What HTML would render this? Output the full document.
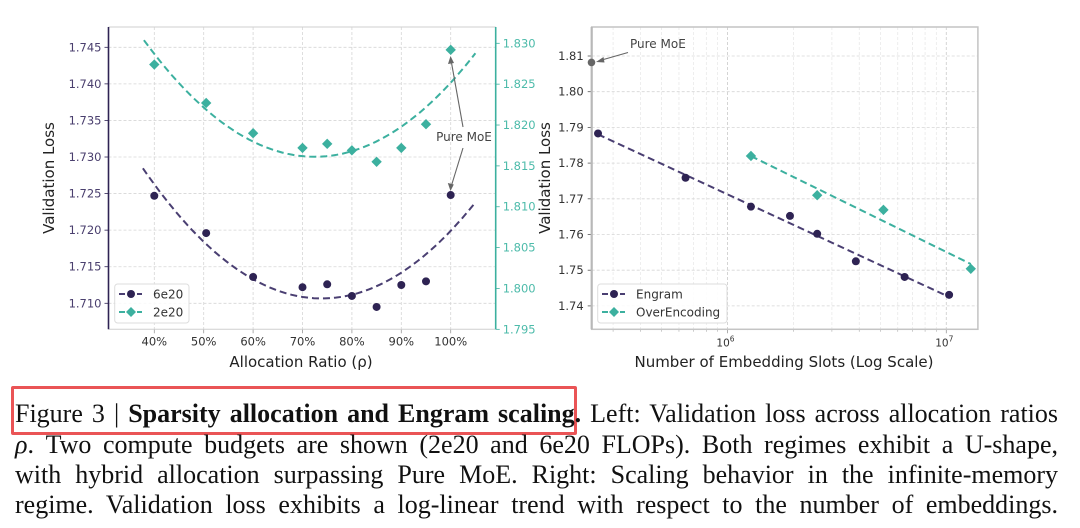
<!DOCTYPE html>
<html><head><meta charset="utf-8">
<style>
html,body{margin:0;padding:0;background:#fff;}
#wrap{position:relative;width:1080px;height:528px;overflow:hidden;background:#fff;}
svg{position:absolute;left:0;top:0;}
.cap{position:absolute;left:15px;width:1043px;font-family:"Liberation Serif",serif;font-size:26px;color:#111;white-space:nowrap;text-align:justify;text-align-last:justify;line-height:30px;}
#box{position:absolute;left:11px;top:386px;width:560px;height:43px;border:3px solid #ea5456;border-radius:2px;}
</style></head>
<body>
<div id="wrap">
<svg id="chart" width="1080" height="380" viewBox="0 0 1080 380"></svg>
<div id="box"></div>
<div class="cap" style="top:399px">Figure 3 | <b>Sparsity allocation and Engram scaling.</b> Left: Validation loss across allocation ratios</div>
<div class="cap" style="top:430px"><i>ρ</i>. Two compute budgets are shown (2e20 and 6e20 FLOPs). Both regimes exhibit a U-shape,</div>
<div class="cap" style="top:460px">with hybrid allocation surpassing Pure MoE. Right: Scaling behavior in the infinite-memory</div>
<div class="cap" style="top:490px">regime. Validation loss exhibits a log-linear trend with respect to the number of embeddings.</div>
</div>
<script>
// ---- Left chart data ----
const allocRatios = [40, 50.5, 60, 70, 75, 80, 85, 90, 95, 100];
const loss6e20 = [1.7247, 1.7196, 1.7136, 1.7122, 1.7126, 1.7110, 1.7095, 1.7125, 1.7130, 1.7248];
const loss2e20 = [1.8274, 1.8227, 1.8190, 1.8172, 1.8177, 1.8169, 1.8155, 1.8172, 1.8201, 1.8292];
const xTicksLeft = [40, 50, 60, 70, 80, 90, 100];
const yTicksLeft = [1.710, 1.715, 1.720, 1.725, 1.730, 1.735, 1.740, 1.745];
const yTicksRightAxis = [1.795, 1.800, 1.805, 1.810, 1.815, 1.820, 1.825, 1.830];
// ---- Right chart data ----
const engramSlots = [2.56e5, 6.43e5, 1.28e6, 1.93e6, 2.57e6, 3.86e6, 6.45e6, 1.03e7];
const engramLoss = [1.7883, 1.7759, 1.7678, 1.7652, 1.7602, 1.7525, 1.7481, 1.7431];
const overEncSlots = [1.28e6, 2.57e6, 5.16e6, 1.294e7];
const overEncLoss = [1.7820, 1.7710, 1.7669, 1.7504];
const pureMoeSlots = [2.39e5];
const pureMoeLoss = [1.8082];
const yTicksRight = [1.74, 1.75, 1.76, 1.77, 1.78, 1.79, 1.80, 1.81];

const PURPLE = '#2e2353', TEAL = '#3cb09f';
const svg = document.getElementById('chart');
const NS = 'http://www.w3.org/2000/svg';
function mk(tag, attrs, parent, text) {
  const e = document.createElementNS(NS, tag);
  for (const k in attrs) e.setAttribute(k, attrs[k]);
  if (text !== undefined) e.textContent = text;
  (parent || svg).appendChild(e);
  return e;
}
const xL = v => 154.3 + (v - 40) * 4.94;
const yL = v => 47.3 + (1.745 - v) / 0.005 * 36.57;
const yR = v => 43.3 + (1.830 - v) / 0.005 * 40.86;
const xE = n => 727.5 + (Math.log10(n) - 6) * 218.8;
const yE = v => 56 + (1.81 - v) / 0.01 * 35.7;
const L = {x0: 108.5, x1: 495.7, y0: 27, y1: 329.3};
const R = {x0: 591.7, x1: 977.9, y0: 27, y1: 329.3};

function quadFit(xs, ys) {
  let S = [[0,0,0],[0,0,0],[0,0,0]], b = [0,0,0];
  xs.forEach((x, i) => { const p = [1, x, x*x];
    for (let r = 0; r < 3; r++) { b[r] += p[r]*ys[i]; for (let c = 0; c < 3; c++) S[r][c] += p[r]*p[c]; } });
  for (let i = 0; i < 3; i++) { for (let j = i+1; j < 3; j++) { const f = S[j][i]/S[i][i];
      for (let k = i; k < 3; k++) S[j][k] -= f*S[i][k]; b[j] -= f*b[i]; } }
  const c = [0,0,0];
  for (let i = 2; i >= 0; i--) { let s = b[i]; for (let k = i+1; k < 3; k++) s -= S[i][k]*c[k]; c[i] = s/S[i][i]; }
  return x => c[0] + c[1]*x + c[2]*x*x;
}
function linFit(xs, ys) {
  const n = xs.length, mx = xs.reduce((a,b)=>a+b)/n, my = ys.reduce((a,b)=>a+b)/n;
  let sxy = 0, sxx = 0; xs.forEach((x,i)=>{ sxy += (x-mx)*(ys[i]-my); sxx += (x-mx)*(x-mx); });
  const m = sxy/sxx; return x => my + m*(x-mx);
}
function diamond(cx, cy, r) { return `${cx},${cy-r} ${cx+r},${cy} ${cx},${cy+r} ${cx-r},${cy}`; }

// ================= RIGHT CHART (drawn first so left labels stay on top) =================
const gR = mk('g', {});


for (let e = 5; e <= 7; e++) for (let m = 1; m <= 9; m++) {
  const v = m * Math.pow(10, e), x = xE(v);
  if (x < R.x0 || x > R.x1) continue;
  mk('line', {x1: x, x2: x, y1: R.y0, y2: R.y1, stroke: m === 1 ? '#d0d0d0' : '#e6e6e6', 'stroke-width': m === 1 ? 0.9 : 0.7, 'stroke-dasharray': '3,2'}, gR);
  if (m !== 1) mk('line', {x1: x, x2: x, y1: R.y1, y2: R.y1 + 2.5, stroke: '#aaa', 'stroke-width': 0.6}, gR);
}
[6, 7].forEach(e => {
  const x = xE(Math.pow(10, e));
  mk('line', {x1: x, x2: x, y1: R.y1, y2: R.y1 + 4, stroke: '#999', 'stroke-width': 0.8}, gR);
  const t = mk('text', {x: x - 2, y: R.y1 + 17, 'text-anchor': 'middle', 'font-size': 10.5, fill: '#333', 'font-family': 'DejaVu Sans, sans-serif'}, gR, '10');
  mk('tspan', {dy: -5, 'font-size': 7.5}, t, String(e));
  
  
});
yTicksRight.forEach(t => {
  mk('line', {x1: R.x0, x2: R.x1, y1: yE(t), y2: yE(t), stroke: '#d6d6d6', 'stroke-width': 0.8, 'stroke-dasharray': '3,2'}, gR);
  mk('line', {x1: R.x0 - 4, x2: R.x0, y1: yE(t), y2: yE(t), stroke: '#555', 'stroke-width': 0.8}, gR);
  const tx = mk('text', {x: R.x0 - 8, y: yE(t) + 4, 'text-anchor': 'end', 'font-size': 11.5, fill: '#333', 'font-family': 'DejaVu Sans, sans-serif'}, gR, t.toFixed(2));
  
  
});
const frame = mk('rect', {x: R.x0, y: R.y0, width: R.x1 - R.x0, height: R.y1 - R.y0, fill: 'none', stroke: '#c4c4c4', 'stroke-width': 1.5}, gR);


mk('line', {x1: R.x0, x2: R.x0, y1: R.y0, y2: R.y1, stroke: '#b8b8b8', 'stroke-width': 2.2}, gR);

const fe = linFit(engramSlots.map(Math.log10), engramLoss);
const fo = linFit(overEncSlots.map(Math.log10), overEncLoss);
function lin(f, xs, col, name) {
  const a = xs[0], b = xs[xs.length - 1];
  const p = mk('line', {x1: xE(a), y1: yE(f(Math.log10(a))), x2: xE(b), y2: yE(f(Math.log10(b))), stroke: col, 'stroke-width': 2, 'stroke-dasharray': '7,4'}, gR);
  
  
}
lin(fe, engramSlots, '#4a3f72', 'fit-line-engram');
lin(fo, overEncSlots, TEAL, 'fit-line-overencoding');
engramSlots.forEach((s, i) => {
  const p = mk('circle', {cx: xE(s), cy: yE(engramLoss[i]), r: 4, fill: PURPLE}, gR);
  
  
});
overEncSlots.forEach((s, i) => {
  const p = mk('polygon', {points: diamond(xE(s), yE(overEncLoss[i]), 5.2), fill: TEAL}, gR);
  
  
});
pureMoeSlots.forEach((s, i) => {
  const p = mk('circle', {cx: xE(s), cy: yE(pureMoeLoss[i]), r: 3.8, fill: '#666'}, gR);
  
  
});
mk('line', {x1: 628, y1: 52.5, x2: 600, y2: 60.5, stroke: '#666', 'stroke-width': 1.1}, gR);
mk('polygon', {points: '596,62 603.5,57 604.5,62.5', fill: '#666'}, gR);
const annR = mk('text', {x: 630, y: 48, 'font-size': 12, fill: '#444', 'font-family': 'DejaVu Sans, sans-serif'}, gR, 'Pure MoE');


const lgR = mk('g', {}, gR);


mk('rect', {x: 597.7, y: 284, width: 129.3, height: 39, rx: 3, fill: '#fff', 'fill-opacity': 0.85, stroke: '#ddd'}, lgR);
mk('line', {x1: 602, x2: 625, y1: 294, y2: 294, stroke: '#4a3f72', 'stroke-width': 2, 'stroke-dasharray': '6,3'}, lgR);
mk('circle', {cx: 614, cy: 294, r: 4, fill: PURPLE}, lgR);
mk('text', {x: 636, y: 298.5, 'font-size': 12, fill: '#333', 'font-family': 'DejaVu Sans, sans-serif'}, lgR, 'Engram');
mk('line', {x1: 602, x2: 625, y1: 312, y2: 312, stroke: TEAL, 'stroke-width': 2, 'stroke-dasharray': '6,3'}, lgR);
mk('polygon', {points: diamond(614, 312, 5), fill: TEAL}, lgR);
mk('text', {x: 636, y: 316.5, 'font-size': 12, fill: '#333', 'font-family': 'DejaVu Sans, sans-serif'}, lgR, 'OverEncoding');
const xlabR = mk('text', {x: 784, y: 367, 'text-anchor': 'middle', 'font-size': 15, fill: '#222', 'font-family': 'DejaVu Sans, sans-serif'}, gR, 'Number of Embedding Slots (Log Scale)');


const ylabR = mk('text', {x: 0, y: 0, transform: 'translate(550,178) rotate(-90)', 'text-anchor': 'middle', 'font-size': 15, fill: '#222', 'font-family': 'DejaVu Sans, sans-serif'}, gR, 'Validation Loss');



// ================= LEFT CHART =================
const gL = mk('g', {});


xTicksLeft.forEach(t => {
  const ln = mk('line', {x1: xL(t), x2: xL(t), y1: L.y0, y2: L.y1, stroke: '#d6d6d6', 'stroke-width': 0.8, 'stroke-dasharray': '3,2'}, gL);
  
  
  mk('line', {x1: xL(t), x2: xL(t), y1: L.y1, y2: L.y1 + 4, stroke: '#999', 'stroke-width': 0.8}, gL);
  const tx = mk('text', {x: xL(t), y: L.y1 + 16, 'text-anchor': 'middle', 'font-size': 11.5, fill: '#333', 'font-family': 'DejaVu Sans, sans-serif'}, gL, t + '%');
  
  
});
yTicksLeft.forEach(t => {
  const ln = mk('line', {x1: L.x0, x2: L.x1, y1: yL(t), y2: yL(t), stroke: '#d6d6d6', 'stroke-width': 0.8, 'stroke-dasharray': '3,2'}, gL);
  
  
  mk('line', {x1: L.x0 - 4, x2: L.x0, y1: yL(t), y2: yL(t), stroke: PURPLE, 'stroke-width': 0.8}, gL);
  const tx = mk('text', {x: L.x0 - 7, y: yL(t) + 4, 'text-anchor': 'end', 'font-size': 11.5, fill: '#4a3f6e', 'font-family': 'DejaVu Sans, sans-serif'}, gL, t.toFixed(3));
  
  
});
yTicksRightAxis.forEach(t => {
  mk('line', {x1: L.x1, x2: L.x1 + 4, y1: yR(t), y2: yR(t), stroke: TEAL, 'stroke-width': 0.8}, gL);
  const tx = mk('text', {x: L.x1 + 7, y: yR(t) + 4, 'text-anchor': 'start', 'font-size': 11.5, fill: '#4dbbaa', 'font-family': 'DejaVu Sans, sans-serif'}, gL, t.toFixed(3));
  
  
});
mk('line', {x1: L.x0, x2: L.x1, y1: L.y0, y2: L.y0, stroke: '#cfcfcf', 'stroke-width': 1}, gL);
mk('line', {x1: L.x0, x2: L.x1, y1: L.y1, y2: L.y1, stroke: '#cfcfcf', 'stroke-width': 1}, gL);
const spL = mk('line', {x1: L.x0, x2: L.x0, y1: L.y0, y2: L.y1, stroke: PURPLE, 'stroke-width': 1.6}, gL);


const spR = mk('line', {x1: L.x1, x2: L.x1, y1: L.y0, y2: L.y1, stroke: TEAL, 'stroke-width': 1.6}, gL);



const f6 = quadFit(allocRatios, loss6e20), f2 = quadFit(allocRatios, loss2e20);
function curve(f, a, b, xf, yf) { let d = ''; for (let i = 0; i <= 60; i++) { const x = a + (b-a)*i/60; d += (i ? 'L' : 'M') + xf(x).toFixed(1) + ',' + yf(f(x)).toFixed(1); } return d; }
const c6 = mk('path', {d: curve(f6, 37.7, 104.6, xL, yL), fill: 'none', stroke: '#4a3f72', 'stroke-width': 2, 'stroke-dasharray': '7,4'}, gL);


const c2 = mk('path', {d: curve(f2, 37.9, 105, xL, yR), fill: 'none', stroke: TEAL, 'stroke-width': 2, 'stroke-dasharray': '7,4'}, gL);


allocRatios.forEach((a, i) => {
  const p = mk('circle', {cx: xL(a), cy: yL(loss6e20[i]), r: 4, fill: PURPLE}, gL);
  
  
  const d = mk('polygon', {points: diamond(xL(a), yR(loss2e20[i]), 5.2), fill: TEAL}, gL);
  
  
});
const ann = mk('text', {x: 464, y: 141, 'text-anchor': 'middle', 'font-size': 12, fill: '#444', 'font-family': 'DejaVu Sans, sans-serif'}, gL, 'Pure MoE');


mk('line', {x1: 463, y1: 127, x2: 451, y2: 60, stroke: '#666', 'stroke-width': 1.1}, gL);
mk('polygon', {points: '450.5,56 448,64 454,63', fill: '#666'}, gL);
mk('line', {x1: 463, y1: 148, x2: 451, y2: 187, stroke: '#666', 'stroke-width': 1.1}, gL);
mk('polygon', {points: '450.5,191 447.8,183 453.8,184.5', fill: '#666'}, gL);
const lgL = mk('g', {}, gL);


mk('rect', {x: 114.7, y: 284, width: 74.3, height: 39, rx: 3, fill: '#fff', 'fill-opacity': 0.85, stroke: '#ddd'}, lgL);
mk('line', {x1: 119, x2: 142, y1: 294, y2: 294, stroke: '#4a3f72', 'stroke-width': 2, 'stroke-dasharray': '6,3'}, lgL);
mk('circle', {cx: 131, cy: 294, r: 4, fill: PURPLE}, lgL);
mk('text', {x: 153, y: 298.5, 'font-size': 12, fill: '#333', 'font-family': 'DejaVu Sans, sans-serif'}, lgL, '6e20');
mk('line', {x1: 119, x2: 142, y1: 312, y2: 312, stroke: TEAL, 'stroke-width': 2, 'stroke-dasharray': '6,3'}, lgL);
mk('polygon', {points: diamond(131, 312, 5), fill: TEAL}, lgL);
mk('text', {x: 153, y: 316.5, 'font-size': 12, fill: '#333', 'font-family': 'DejaVu Sans, sans-serif'}, lgL, '2e20');
const xlabL = mk('text', {x: 301, y: 367, 'text-anchor': 'middle', 'font-size': 15, fill: '#222', 'font-family': 'DejaVu Sans, sans-serif'}, gL, 'Allocation Ratio (ρ)');


const ylabL = mk('text', {x: 0, y: 0, transform: 'translate(54,178) rotate(-90)', 'text-anchor': 'middle', 'font-size': 15, fill: '#222', 'font-family': 'DejaVu Sans, sans-serif'}, gL, 'Validation Loss');


</script>
</body></html>
